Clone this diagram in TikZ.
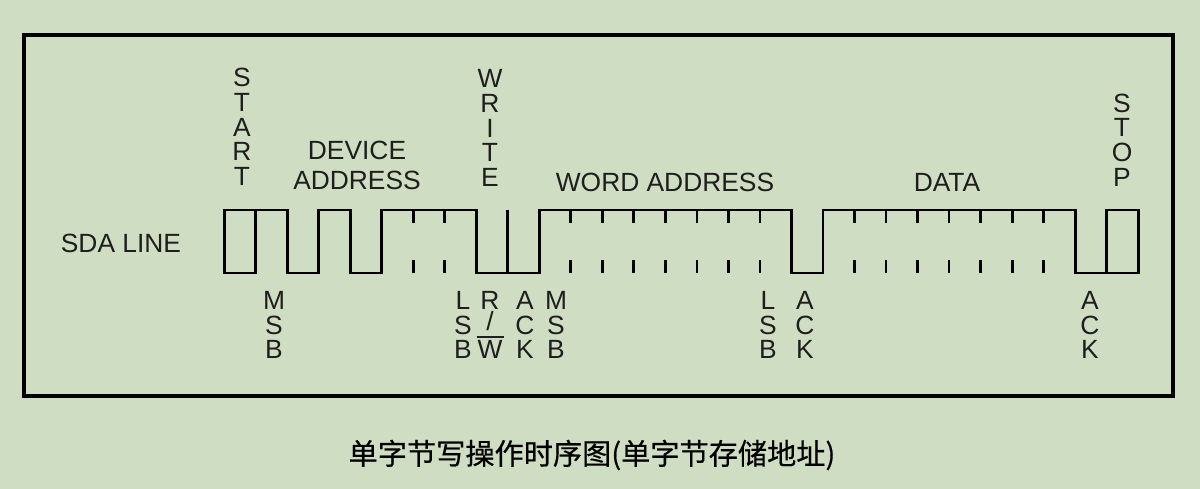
\documentclass[tikz,border=0pt]{standalone}
\usepackage{fontspec}
\setmainfont{Liberation Sans}
\newfontfamily\cjk[FakeBold=0.5]{Noto Sans CJK SC}
\definecolor{bgc}{RGB}{207,222,194}
\definecolor{ink}{RGB}{30,30,30}
\tikzset{
  lbl/.style={inner sep=0pt, align=center, text=ink,
    font=\fontsize{7.5}{7.05}\selectfont},
  wave/.style={line width=0.8pt, line join=miter},
  tick/.style={line width=0.8pt}
}

\begin{document}
\begin{tikzpicture}[x=0.01cm, y=-0.01cm]
    \fill [bgc] (0, 0) rectangle (1200, 489);
    \useasboundingbox (0, 0) rectangle (1200, 489);
    \draw [line width=0.9pt] (24, 35) rectangle (1173, 396);

    \node [lbl] (sda) at (121, 243) {SDA LINE};

    \begin{scope}[xshift=2.24cm, x=0.315cm]
      \draw [wave] (0, 210) rectangle (1, 273);
      \draw [wave] (1, 210) -- (2, 210) -- (2, 273) -- (3, 273) -- (3, 210)
        -- (4, 210) -- (4, 273) -- (5, 273) -- (5, 210) -- (8, 210) -- (8, 273)
        -- (10, 273) -- (10, 210) -- (18, 210) -- (18, 273) -- (19, 273)
        -- (19, 210) -- (27, 210) -- (27, 273) -- (28, 273);
      \draw [wave] (9, 210) -- (9, 273);
      \draw [wave] (28, 210) rectangle (29, 273);
      \foreach \i in {6, 7, 11, 12, ..., 17, 20, 21, ..., 26} {
        \draw [tick] (\i, 210) -- (\i, 223);
        \draw [tick] (\i, 273) -- (\i, 260);
      }
    \end{scope}

    \node [lbl] (start) at (242, 127) {S\\T\\A\\R\\T};
    \node [lbl, font=\fontsize{7.5}{8.5}\selectfont] (devaddr) at (357, 165)
       {DEVICE\\ADDRESS};
    \node [lbl] (write) at (490, 128) {W\\R\\I\\T\\E};
    \node [lbl] (wordaddr) at (665, 182) {WORD ADDRESS};
    \node [lbl] (data) at (947, 182) {DATA};
    \node [lbl] (stop) at (1122, 140) {S\\T\\O\\P};

    \node [lbl] (msbdev) at (274, 325) {M\\S\\B};
    \node [lbl] (lsbdev) at (463, 325) {L\\S\\B};
    \node [lbl] (rw) at (490, 325)
       {R\\\raisebox{1pt}{/}\\\rlap{\kern-0.3pt\rule[5.9pt]{7.7pt}{0.5pt}}W};
    \node [lbl] (ackdev) at (525, 325) {A\\C\\K};
    \node [lbl] (msbword) at (556, 325) {M\\S\\B};
    \node [lbl] (lsbword) at (768, 325) {L\\S\\B};
    \node [lbl] (ackword) at (805, 325) {A\\C\\K};
    \node [lbl] (ackdata) at (1090, 325) {A\\C\\K};

    \node [inner sep=0pt, text=black, font=\cjk\fontsize{8.3}{10}\selectfont]
       (caption) at (592, 455) {单字节写操作时序图(单字节存储地址)};
\end{tikzpicture}
\end{document}
